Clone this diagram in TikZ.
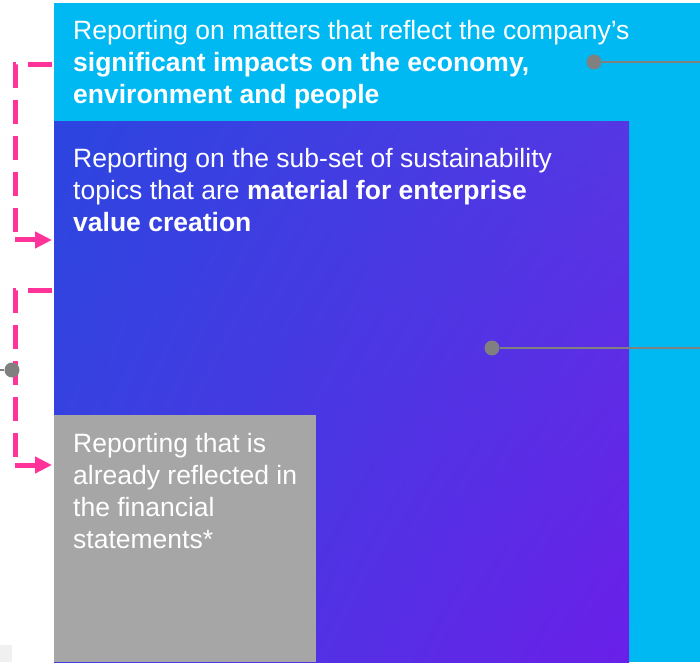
\documentclass[tikz,border=0pt]{standalone}
\usepackage{fontspec}
\setmainfont{Liberation Sans}
\usepackage{tikz}
\usetikzlibrary{arrows.meta,shadings}
\usepackage{xcolor}
\definecolor{impact}{HTML}{00B9F2}
\definecolor{valueTL}{HTML}{2B45E0}
\definecolor{valueTR}{HTML}{5537E3}
\definecolor{valueBL}{HTML}{3F40E0}
\definecolor{valueBR}{HTML}{6A1FE8}
\definecolor{financial}{HTML}{A6A6A6}
\definecolor{bracketpink}{HTML}{FF3399}
\definecolor{leadgray}{HTML}{808080}

\begin{document}
\begin{tikzpicture}[x=1pt, y=1pt,
  panel/.style={anchor=south west, inner sep=0pt, outer sep=0pt},
  blurb/.style={anchor=north west, inner sep=0pt, align=left, text=white, font=\fontsize{26.5}{32}\selectfont},
  bracket/.style={draw=bracketpink, line width=5pt},
  leader/.style={draw=leadgray, line width=2.8pt},
  knob/.style={circle, fill=leadgray, inner sep=0pt, minimum size=15pt}]
  \path[fill=white, use as bounding box] (0,0) rectangle (700,662);

  \node[panel, fill=impact, minimum width=646pt, minimum height=659pt] (impact) at (54,0) {};
  \node[panel, shade, upper left=valueTL, upper right=valueTR, lower left=valueBL, lower right=valueBR,
    minimum width=575pt, minimum height=540pt] (enterprise) at (54,0) {};
  \node[panel, fill=financial, minimum width=262pt, minimum height=247pt] (financial) at (54,0) {};
  \node[panel, fill=black!6, minimum width=12pt, minimum height=17pt] (corner) at (0,0) {};

  \node[blurb] (impacttext) at (73,642) {Reporting on matters that reflect the company’s\\
    \textbf{significant impacts on the economy,}\\ \textbf{environment and people}};
  \node[blurb] (enterprisetext) at (73,514) {Reporting on the sub-set of sustainability\\
    topics that are \textbf{material for enterprise}\\ \textbf{value creation}};
  \node[blurb] (financialtext) at (73,229) {Reporting that is\\ already reflected in\\
    the financial\\ statements*};

  \coordinate (topstub) at (52,597);
  \coordinate (topturn) at (15,422);
  \coordinate (toptip) at (52,422);
  \coordinate (lowstub) at (52,372);
  \coordinate (lowturn) at (15,197);
  \coordinate (lowtip) at (52,197);
  \draw[bracket, dash pattern=on 24pt off 12pt] (topstub) -- (15,597) -- (topturn);
  \draw[bracket, -{Triangle[length=17pt, width=16pt]}] (topturn) -- (toptip);
  \draw[bracket, dash pattern=on 24pt off 12pt] (lowstub) -- (15,372) -- (lowturn);
  \draw[bracket, -{Triangle[length=17pt, width=16pt]}] (lowturn) -- (lowtip);

  \node[knob] (impactknob) at (594,600) {};
  \node[knob] (enterpriseknob) at (492,314) {};
  \node[knob] (financialknob) at (12,292) {};
  \coordinate (impactend) at (700,600);
  \coordinate (enterpriseend) at (700,314);
  \coordinate (financialend) at (0,292);
  \draw[leader] (impactknob) -- (impactend);
  \draw[leader] (enterpriseknob) -- (enterpriseend);
  \draw[leader] (financialknob) -- (financialend);
\end{tikzpicture}
\end{document}
